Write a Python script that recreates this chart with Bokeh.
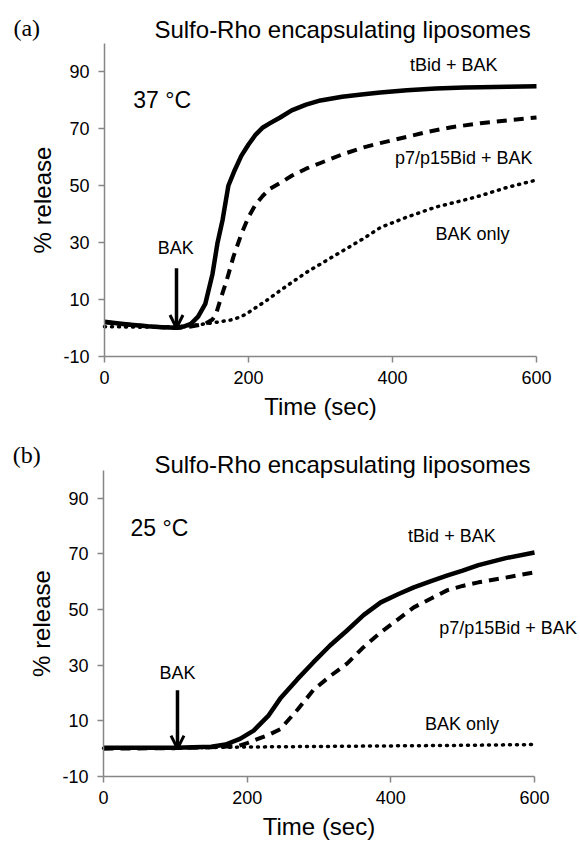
from bokeh.plotting import figure
from bokeh.models import Range1d, FixedTicker, Label, Arrow, OpenHead
from bokeh.layouts import column
from bokeh.embed import file_html
from bokeh.resources import INLINE

# ---------------- data: panel (a) 37 C ----------------
a_tbid_t = [0, 20, 40, 60, 80, 100, 110, 120, 130, 140, 150, 157, 164, 172, 180, 190, 200, 210, 220,
            230, 244, 260, 280, 300, 330, 360, 383, 420, 460, 500, 522, 560, 600]
a_tbid_v = [2.2, 1.6, 1.1, 0.6, 0.3, 0.1, 0.5, 1.5, 4, 8.5, 19, 30, 38, 50, 55, 60.5, 64.5, 68, 70.5,
            72, 74, 76.5, 78.5, 80, 81.3, 82.2, 82.8, 83.6, 84.2, 84.5, 84.6, 84.8, 85]

a_p7_t = [0, 20, 40, 60, 80, 100, 120, 140, 150, 155, 161, 170, 179, 190, 200, 210, 220, 230, 244,
          260, 280, 300, 330, 360, 383, 420, 450, 480, 522, 560, 600]
a_p7_v = [2.0, 1.5, 1.0, 0.6, 0.3, 0.0, 0.5, 1.5, 3, 5, 10, 17, 25, 33, 39, 43.5, 46.5, 49, 51,
          53.5, 56, 58, 61, 63.5, 65, 67.2, 69, 70.5, 72, 73, 74]

a_bak_t = [0, 50, 100, 125, 150, 175, 190, 200, 212, 224, 244, 260, 280, 300, 330, 360, 383, 420,
           460, 500, 522, 560, 600]
a_bak_v = [0.5, 0.3, 0.5, 1, 1.8, 2.8, 4, 5.5, 7.5, 9.5, 13.2, 16, 19.5, 22.5, 27, 31.5, 35.3, 39,
           42.5, 45, 46.5, 49.5, 52]

# ---------------- data: panel (b) 25 C ----------------
b_tbid_t = [0, 100, 150, 170, 190, 209, 230, 246, 270, 292, 315, 339, 362, 386, 410, 432, 456, 479,
            500, 522, 560, 600]
b_tbid_v = [0.3, 0.3, 0.7, 1.5, 3.5, 6.5, 12, 18, 25, 31, 37, 42.5, 48, 52.6, 55.5, 58, 60.2, 62.3,
            64, 66, 68.5, 70.5]

b_p7_t = [0, 100, 150, 188, 200, 215, 230, 246, 270, 292, 315, 339, 362, 386, 410, 432, 456, 479,
          500, 522, 560, 600]
b_p7_v = [0.0, 0.2, 0.5, 1, 2, 3.5, 5, 7, 14, 21, 26, 30.6, 36.5, 41.8, 46.5, 50.8, 54, 57,
          58.5, 59.8, 61.5, 63.4]

b_bak_t = [0, 100, 200, 300, 400, 500, 600]
b_bak_v = [0.2, 0.3, 0.6, 0.8, 1.0, 1.2, 1.5]

x_ticks = [0, 200, 400, 600]
y_ticks = [-10, 10, 30, 50, 70, 90]
y_tick_text = {-10: "-10"}
X_MIN, X_MAX = 0, 600
Y_MIN, Y_MAX = -10, 100

SANS = "Liberation Sans"
SERIF = "Liberation Serif"
AXIS_GRAY = "#868686"
W = 578


def make_panel(height, frame_top, frame_bottom, px0, px600, series, letter, temp, labels,
               arrow_x, letter_xy, title_xy, temp_xy):
    ky = (frame_bottom - frame_top) / (Y_MAX - Y_MIN)
    kx = (px600 - px0) / (X_MAX - X_MIN)
    y_top = Y_MAX + frame_top / ky
    y_bot = Y_MIN - (height - frame_bottom) / ky
    x_left = X_MIN - px0 / kx
    x_right = X_MIN + (W - px0) / kx

    p = figure(width=W, height=height, output_backend="svg", toolbar_location=None,
               x_range=Range1d(x_left, x_right), y_range=Range1d(y_bot, y_top),
               min_border_left=0, min_border_right=0, min_border_top=0, min_border_bottom=0)
    p.outline_line_color = None
    p.grid.visible = False
    p.background_fill_color = "white"
    p.border_fill_color = "white"

    for ax in (p.xaxis[0], p.yaxis[0]):
        ax.axis_line_color = AXIS_GRAY
        ax.axis_line_width = 1.5
        ax.major_tick_line_color = AXIS_GRAY
        ax.major_tick_line_width = 1.5
        ax.major_tick_out = 6
        ax.major_tick_in = 0
        ax.minor_tick_line_color = None
        ax.major_label_text_font = SANS
        ax.major_label_text_font_size = "18px"
        ax.major_label_text_color = "black"
        ax.axis_label_text_font = SANS
        ax.axis_label_text_font_size = "24px"
        ax.axis_label_text_font_style = "normal"
        ax.axis_label_text_color = "black"

    p.xaxis.ticker = FixedTicker(ticks=x_ticks)
    p.yaxis.ticker = FixedTicker(ticks=y_ticks)
    p.yaxis.major_label_overrides = y_tick_text
    p.xaxis.bounds = (X_MIN, X_MAX)
    p.yaxis.bounds = (Y_MIN, Y_MAX)
    p.xaxis.fixed_location = Y_MIN
    p.yaxis.fixed_location = X_MIN
    p.xaxis.axis_label = "Time (sec)"
    p.yaxis.axis_label = "% release"
    p.xaxis.major_label_standoff = 8
    p.xaxis.axis_label_standoff = 6
    p.yaxis.major_label_standoff = 9
    p.yaxis.axis_label_standoff = 4

    (t1, v1), (t2, v2), (t3, v3) = series
    p.line(t3, v3, line_color="black", line_width=3.5, line_dash="1 6", line_cap="round")
    p.line(t2, v2, line_color="black", line_width=4, line_dash="10 7")
    p.line(t1, v1, line_color="black", line_width=4.5, line_join="round")

    p.add_layout(Arrow(end=OpenHead(size=13, line_width=3, line_color="black"),
                       x_start=arrow_x, y_start=21, x_end=arrow_x, y_end=0,
                       line_width=3.5, line_color="black"))

    p.add_layout(Label(x=letter_xy[0], y=letter_xy[1], text=letter, text_font=SERIF,
                       text_font_size="24px", text_align="center", text_baseline="middle",
                       text_color="black"))
    p.add_layout(Label(x=title_xy[0], y=title_xy[1], text="Sulfo-Rho encapsulating liposomes",
                       text_font=SANS, text_font_size="24px", text_align="center",
                       text_baseline="middle", text_color="black"))
    p.add_layout(Label(x=temp_xy[0], y=temp_xy[1], text=temp, text_font=SANS, text_font_size="23px",
                       text_align="left", text_baseline="middle", text_color="black"))
    for (lx, ly, txt, al) in labels:
        p.add_layout(Label(x=lx, y=ly, text=txt, text_font=SANS, text_font_size="18px",
                           text_align=al, text_baseline="middle", text_color="black"))
    return p


pa = make_panel(421, 43, 356, 104, 536,
                [(a_tbid_t, a_tbid_v), (a_p7_t, a_p7_v), (a_bak_t, a_bak_v)],
                "(a)", "37 °C",
                [(485, 92.3, "tBid + BAK", "center"),
                 (499, 59.9, "p7/p15Bid + BAK", "center"),
                 (511, 33.2, "BAK only", "center"),
                 (99, 28.3, "BAK", "center")],
                100, (-108, 105.6), (330.6, 104.9), (40, 80))

pb = make_panel(419, 49, 355, 103, 534,
                [(b_tbid_t, b_tbid_v), (b_p7_t, b_p7_v), (b_bak_t, b_bak_v)],
                "(b)", "25 °C",
                [(485, 76.6, "tBid + BAK", "center"),
                 (659, 43.5, "p7/p15Bid + BAK", "right"),
                 (499, 9, "BAK only", "center"),
                 (103, 27.3, "BAK", "center")],
                103, (-107, 105.4), (332.7, 102.2), (37.6, 79.5))

layout = column(pa, pb, spacing=0)
open("out.html", "w").write(file_html(layout, INLINE))
